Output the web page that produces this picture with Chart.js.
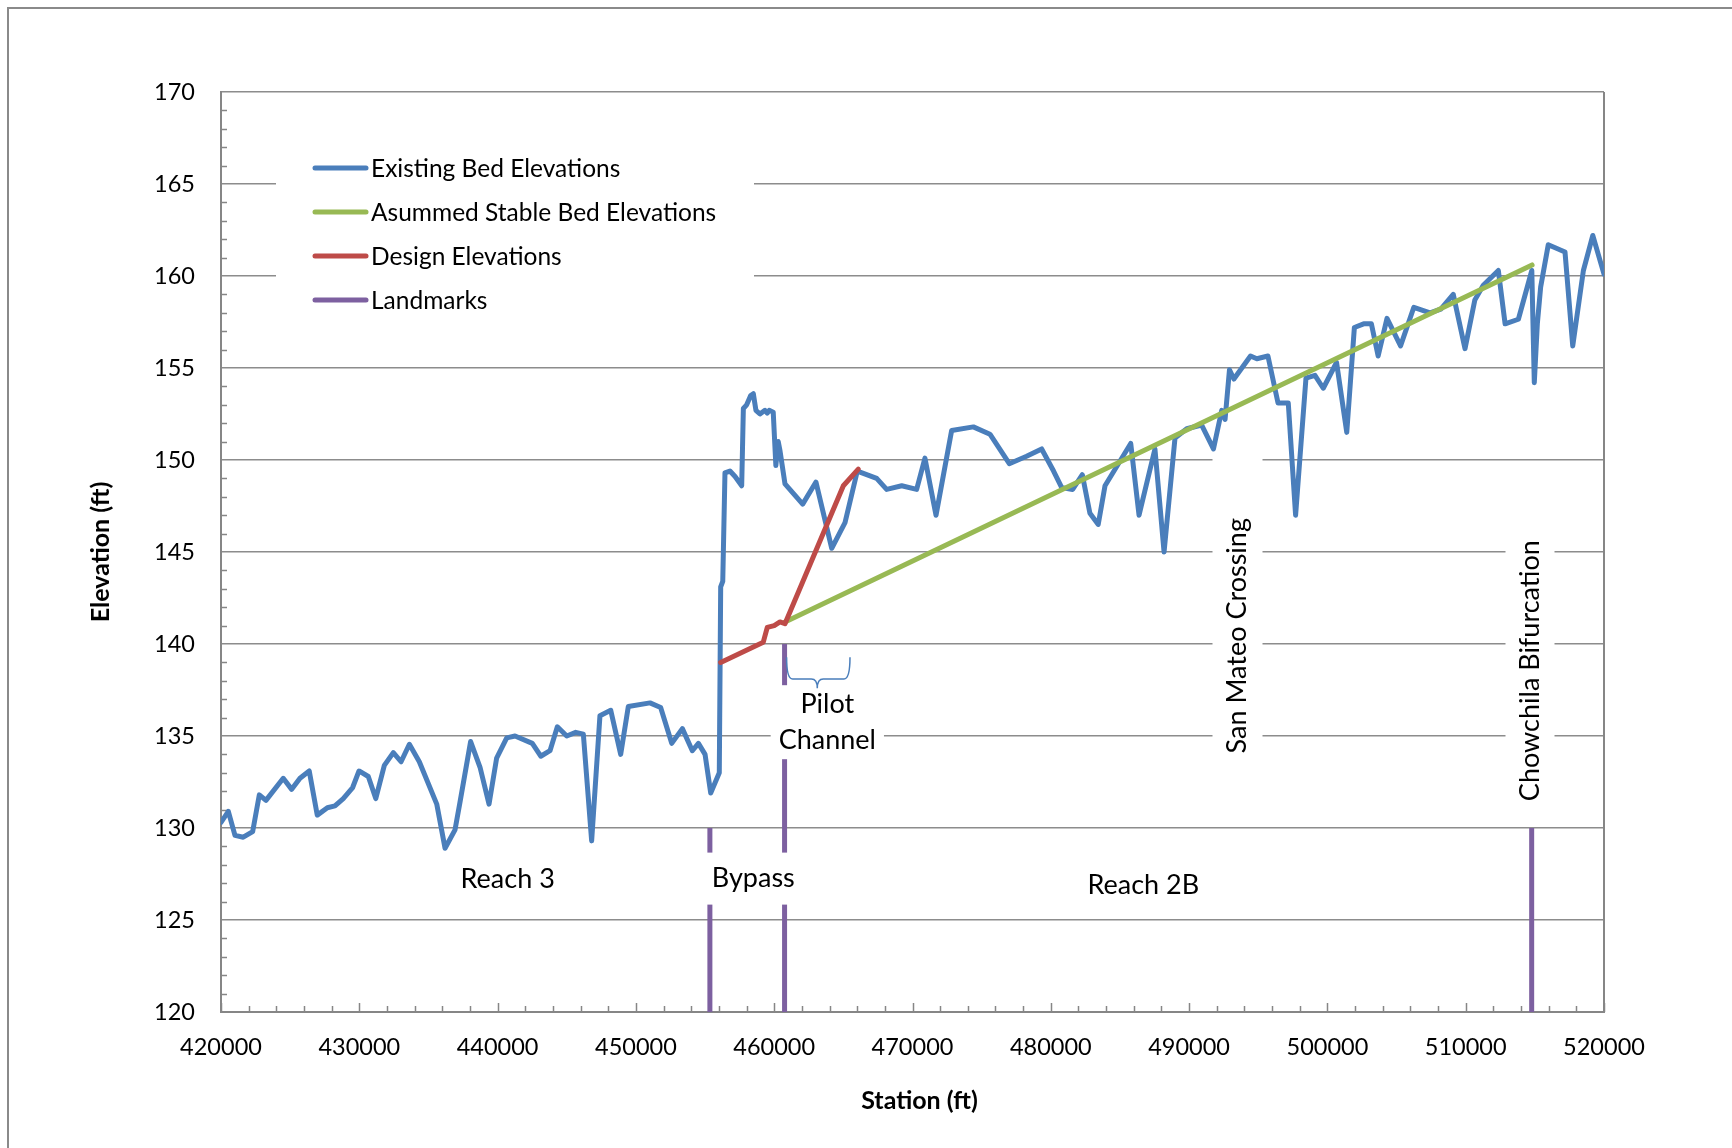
<!DOCTYPE html>
<html><head><meta charset="utf-8">
<script src="https://cdn.jsdelivr.net/npm/chart.js@4"></script>
<style>html,body{margin:0;padding:0;background:#fff;overflow:hidden}</style>
</head><body>
<canvas id="c" width="1732" height="1148"></canvas>
<script>
// ---------- data ----------
const stations = [
 420000,420530,421010,421610,422290,422770,423250,424500,425110,425710,
 426380,426960,427690,428240,428840,429520,429980,430650,431190,431810,
 432460,433020,433620,434340,435600,436200,436920,437280,438050,438730,
 439380,439930,440660,441260,442510,443120,443790,444320,445000,445650,
 446200,446800,447400,448180,448900,449450,451020,451790,452590,453360,
 454080,454520,455000,455410,456030,456130,456280,456440,456800,457170,
 457650,457770,458010,458300,458490,458680,458970,459330,459500,459640,
 459930,460120,460290,460420,460780,462060,463020,464160,465120,466010,
 467410,468130,469220,470300,470900,471700,472830,474400,475600,477000,
 478250,479340,480200,480790,481580,482280,482830,483430,483920,485780,
 486380,487530,488190,488980,489830,490910,491760,492360,492600,492920,
 493240,494440,494900,495700,496430,497170,497700,498450,499100,499700,
 500660,501400,501950,502620,503180,503670,504310,505290,506250,507420,
 508200,509100,509950,510660,511270,512360,512850,513810,514780,514960,
 515180,515420,515970,517180,517740,518510,519190,520000];
const existingElev = [
 130.3,130.9,129.6,129.5,129.8,131.8,131.5,132.7,132.1,132.7,
 133.1,130.7,131.1,131.2,131.6,132.2,133.1,132.8,131.6,133.4,
 134.1,133.6,134.55,133.6,131.3,128.9,129.9,131.4,134.7,133.3,
 131.3,133.8,134.9,135.0,134.6,133.9,134.2,135.5,135.0,135.2,
 135.1,129.3,136.1,136.4,134.0,136.6,136.8,136.55,134.6,135.4,
 134.2,134.6,134.0,131.9,133.0,143.1,143.4,149.3,149.4,149.1,
 148.6,152.8,153.0,153.5,153.6,152.7,152.5,152.7,152.55,152.7,
 152.6,149.7,151.0,150.5,148.7,147.6,148.8,145.2,146.6,149.4,
 149.0,148.4,148.6,148.4,150.1,147.0,151.6,151.8,151.4,149.8,
 150.2,150.6,149.4,148.5,148.4,149.2,147.1,146.5,148.6,150.9,
 147.0,150.6,145.0,151.2,151.7,151.9,150.6,152.7,152.2,154.9,
 154.4,155.65,155.5,155.65,153.1,153.1,147.0,154.45,154.6,153.9,
 155.3,151.5,157.2,157.4,157.4,155.65,157.7,156.2,158.3,158.0,
 158.2,159.0,156.05,158.7,159.5,160.3,157.4,157.65,160.3,154.2,
 157.4,159.4,161.7,161.3,156.2,160.3,162.2,160.1];

const stableStations = [460780, 514800];
const stableElev = [141.2, 160.6];

const designStations = [456130, 459210, 459500, 460000, 460420, 460780, 465000, 466080];
const designElev = [139.0, 140.1, 140.9, 141.0, 141.2, 141.1, 148.6, 149.5];

const landmarkStations = [455350, 460750, 514770];
const landmarkTop = [130, 140, 130];
const landmarkBase = 120;

const seriesNames = ['Existing Bed Elevations', 'Asummed Stable Bed Elevations', 'Design Elevations', 'Landmarks'];

const xTickValues = [420000,430000,440000,450000,460000,470000,480000,490000,500000,510000,520000];
const yTickValues = [120,125,130,135,140,145,150,155,160,165,170];

const xTitle = 'Station (ft)';
const yTitle = 'Elevation (ft)';

const noteTexts = ['Reach 3', 'Bypass', 'Reach 2B', 'Pilot\nChannel', 'San Mateo Crossing', 'Chowchila Bifurcation'];
const noteStations = [440730, 458490, 486690, 463840, 493500, 514650];
const noteElevs = [127.2, 127.25, 126.9, 135.75, 140.45, 138.55];

const braceStations = [460750, 465480];
const braceElevs = [139.28, 138.1, 137.6]; // ends, bar, tip

// ---------- styles ----------
const FONT = 'Lato, "Open Sans", sans-serif';
const C_BLUE = '#4A7EBB', C_GREEN = '#98B954', C_RED = '#BE4B48', C_PURPLE = '#7D60A0';
const C_AXIS = '#868686';
const LINE_W = 5;
const noteStyle = [ // [rotation, padAlong, padPerp]
  [0, 8, 9], [0, 11, 9], [0, 8, 9], [0, 8, 2], [-90, 66, 8], [-90, 15, 7.5]
];
Chart.defaults.font.family = FONT;
Chart.defaults.color = '#000';

const pts = (xs, ys) => xs.map((x, i) => ({x, y: ys[i]}));
const landmarkData = [];
landmarkStations.forEach((s, i) => {
  landmarkData.push({x: s, y: landmarkBase}, {x: s, y: landmarkTop[i]});
  if (i < landmarkStations.length - 1) landmarkData.push({x: s, y: null});
});

const framePlugin = {
  id: 'frame',
  beforeDraw(chart) {
    const ctx = chart.ctx;
    ctx.save();
    ctx.fillStyle = '#fff';
    ctx.fillRect(0, 0, chart.width, chart.height);
    ctx.strokeStyle = '#8a8a8a';
    ctx.lineWidth = 2;
    ctx.strokeRect(8, 8, chart.width + 40, chart.height + 40);
    ctx.restore();
  }
};

const minorTickPlugin = {
  id: 'minorTicks',
  beforeDatasetsDraw(chart) {
    const {ctx, chartArea: a, scales: {x, y}} = chart;
    ctx.save();
    ctx.strokeStyle = C_AXIS;
    ctx.lineWidth = 1.5;
    ctx.beginPath();
    for (let v = y.min; v <= y.max; v += 1) {
      if (v % 5 === 0) continue;
      const py = Math.round(y.getPixelForValue(v)) + 0.5;
      ctx.moveTo(a.left, py); ctx.lineTo(a.left + 6, py);
    }
    for (let v = x.min; v <= x.max; v += 2000) {
      const px = Math.round(x.getPixelForValue(v)) + 0.5;
      const len = (v % 10000 === 0) ? 9 : 6;
      ctx.moveTo(px, a.bottom); ctx.lineTo(px, a.bottom - len);
    }
    ctx.stroke();
    ctx.lineWidth = 2;
    ctx.beginPath();
    ctx.moveTo(a.right, a.top); ctx.lineTo(a.right, a.bottom);
    ctx.stroke();
    ctx.restore();
  }
};

const overlayPlugin = {
  id: 'overlay',
  afterDatasetsDraw(chart) {
    const {ctx, chartArea: a, scales: {x, y}} = chart;
    ctx.save();
    // notes with white boxes
    ctx.font = '27px ' + FONT;
    noteTexts.forEach((t, i) => {
      const [rot, padA, padP] = noteStyle[i];
      const lines = t.split('\n');
      const gap = 36, lh = 34;
      const w = Math.max(...lines.map(l => ctx.measureText(l).width));
      const h = (lines.length - 1) * gap + lh;
      ctx.save();
      ctx.translate(x.getPixelForValue(noteStations[i]), y.getPixelForValue(noteElevs[i]));
      ctx.rotate(rot * Math.PI / 180);
      ctx.fillStyle = '#fff';
      ctx.fillRect(-w / 2 - padA, -h / 2 - padP, w + 2 * padA, h + 2 * padP);
      ctx.fillStyle = '#000';
      ctx.textAlign = 'center';
      ctx.textBaseline = 'middle';
      lines.forEach((l, k) => ctx.fillText(l, 0, (k - (lines.length - 1) / 2) * gap));
      ctx.restore();
    });
    // brace
    const bx0 = x.getPixelForValue(braceStations[0]), bx1 = x.getPixelForValue(braceStations[1]);
    const bxc = (bx0 + bx1) / 2;
    const yt = y.getPixelForValue(braceElevs[0]), ym = y.getPixelForValue(braceElevs[1]), yk = y.getPixelForValue(braceElevs[2]);
    const r = 6;
    ctx.strokeStyle = C_BLUE; ctx.lineWidth = 1.5;
    ctx.beginPath();
    ctx.moveTo(bx0 + 2, yt);
    ctx.quadraticCurveTo(bx0 + 2, ym, bx0 + 2 + r, ym);
    ctx.lineTo(bxc - r, ym);
    ctx.quadraticCurveTo(bxc, ym, bxc, yk);
    ctx.quadraticCurveTo(bxc, ym, bxc + r, ym);
    ctx.lineTo(bx1 - r, ym);
    ctx.quadraticCurveTo(bx1, ym, bx1, yt);
    ctx.stroke();
    // legend
    const colors = [C_BLUE, C_GREEN, C_RED, C_PURPLE];
    const lx = a.left + 55, ly = a.top + 50;
    ctx.fillStyle = '#fff';
    ctx.fillRect(lx, ly, 478, 185);
    ctx.font = '24.5px ' + FONT;
    ctx.textAlign = 'left';
    ctx.textBaseline = 'middle';
    chart.data.datasets.forEach((ds, i) => {
      const ry = a.top + 76 + i * 44;
      ctx.strokeStyle = colors[i]; ctx.lineWidth = LINE_W; ctx.lineCap = 'round';
      ctx.beginPath(); ctx.moveTo(a.left + 94, ry); ctx.lineTo(a.left + 145, ry); ctx.stroke();
      ctx.fillStyle = '#000';
      ctx.fillText(ds.label, a.left + 150, ry + 1);
    });
    // x axis title
    ctx.font = 'bold 25px ' + FONT;
    ctx.textAlign = 'center';
    ctx.fillText(xTitle, (a.left + a.right) / 2 + 7, 1101);
    ctx.restore();
  }
};

new Chart(document.getElementById('c'), {
  type: 'line',
  data: {
    datasets: [
      {label: seriesNames[0], data: pts(stations, existingElev), borderColor: C_BLUE, borderWidth: LINE_W, order: 4},
      {label: seriesNames[1], data: pts(stableStations, stableElev), borderColor: C_GREEN, borderWidth: LINE_W, order: 3},
      {label: seriesNames[2], data: pts(designStations, designElev), borderColor: C_RED, borderWidth: LINE_W, order: 2},
      {label: seriesNames[3], data: landmarkData, borderColor: C_PURPLE, borderWidth: LINE_W, order: 1, spanGaps: false, borderCapStyle: 'butt'}
    ]
  },
  options: {
    responsive: false,
    animation: false,
    elements: {point: {radius: 0}, line: {tension: 0, borderJoinStyle: 'round', borderCapStyle: 'round'}},
    layout: {padding: {top: 92, right: 128, left: 0, bottom: 0}},
    plugins: {legend: {display: false}, tooltip: {enabled: false}},
    scales: {
      x: {
        type: 'linear', min: 420000, max: 520000,
        afterBuildTicks: s => { s.ticks = xTickValues.map(v => ({value: v})); },
        afterFit: s => { s.height = 136; },
        ticks: {callback: v => String(v), padding: 21, font: {size: 23.5}, maxRotation: 0, autoSkip: false, color: '#000'},
        grid: {display: false, drawTicks: false},
        border: {display: true, color: C_AXIS, width: 2},
        title: {display: false}
      },
      y: {
        type: 'linear', min: 120, max: 170,
        afterBuildTicks: s => { s.ticks = yTickValues.map(v => ({value: v})); },
        afterFit: s => { s.width = 221; },
        ticks: {padding: 26, font: {size: 23.5}, color: '#000'},
        grid: {color: '#8c8c8c', lineWidth: 1.5, drawTicks: false},
        border: {display: true, color: C_AXIS, width: 2},
        title: {display: true, text: yTitle, font: {size: 25, weight: 'bold'}, padding: {top: 86, bottom: 0}, color: '#000'}
      }
    }
  },
  plugins: [framePlugin, minorTickPlugin, overlayPlugin]
});
</script>
</body></html>
